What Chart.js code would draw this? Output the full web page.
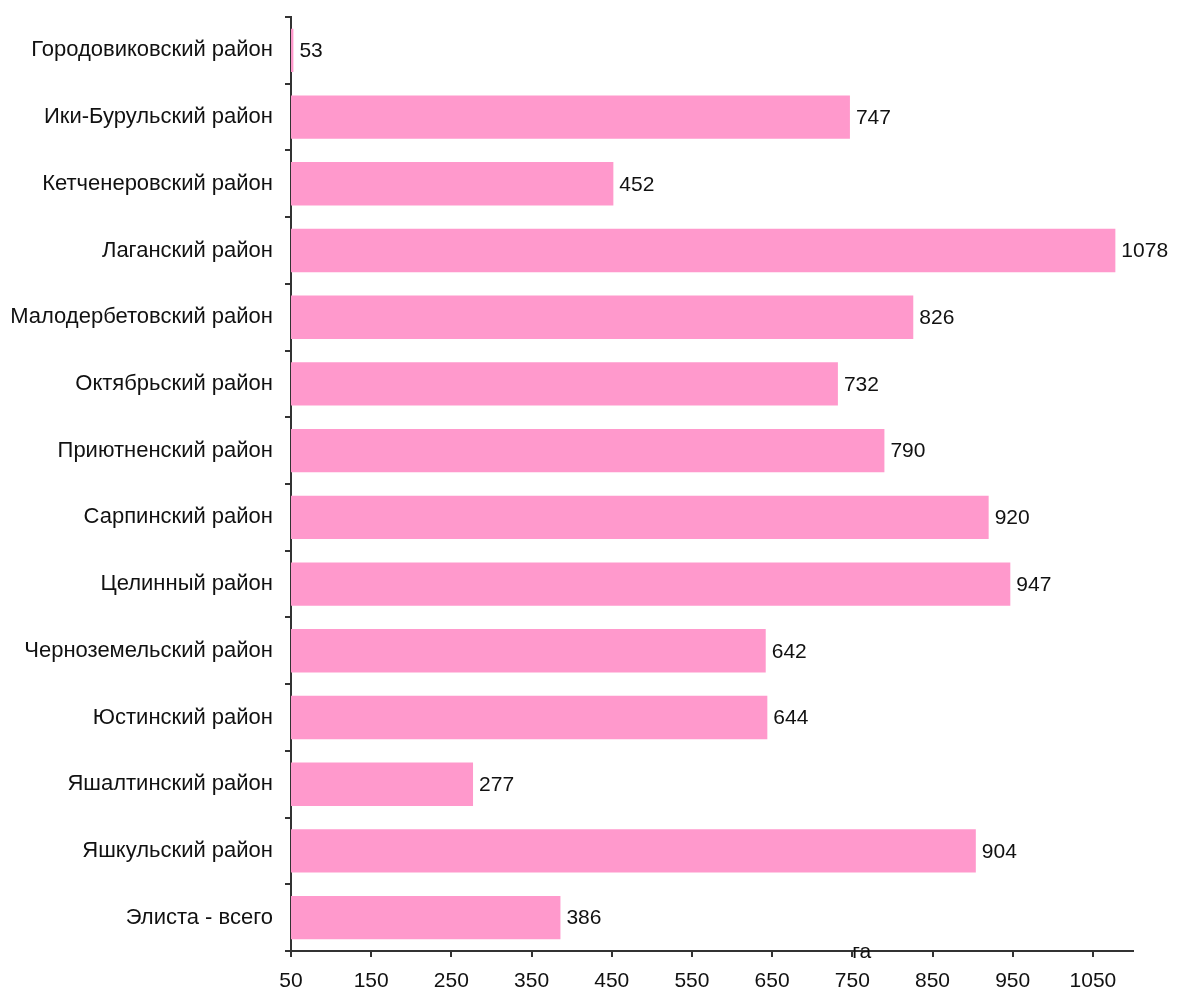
<!DOCTYPE html>
<html>
<head>
<meta charset="utf-8">
<script src="https://cdn.jsdelivr.net/npm/chart.js@4"></script>
<style>
  html, body { margin: 0; padding: 0; background: #fff; }
  #wrap { width: 1179px; height: 995px; }
</style>
</head>
<body>
<div id="wrap"><canvas id="barChart" width="1179" height="995"></canvas></div>
<script>
const DISTRICTS = [
    "Городовиковский район",
    "Ики-Бурульский район",
    "Кетченеровский район",
    "Лаганский район",
    "Малодербетовский район",
    "Октябрьский район",
    "Приютненский район",
    "Сарпинский район",
    "Целинный район",
    "Черноземельский район",
    "Юстинский район",
    "Яшалтинский район",
    "Яшкульский район",
    "Элиста - всего"
];
const AREA = [53, 747, 452, 1078, 826, 732, 790, 920, 947, 642, 644, 277, 904, 386];
const X_TICKS = [50, 150, 250, 350, 450, 550, 650, 750, 850, 950, 1050];
const UNIT = "га";

const FONT = "'Liberation Sans', Arial, sans-serif";
const NUM_SIZE = 21;
const CAT_SIZE = 22;

const valueLabels = {
    id: "valueLabels",
    afterDatasetsDraw(chart){
        const ctx = chart.ctx;
        const meta = chart.getDatasetMeta(0);
        ctx.save();
        ctx.font = NUM_SIZE + "px " + FONT;
        ctx.fillStyle = "#111";
        ctx.textAlign = "left";
        ctx.textBaseline = "middle";
        meta.data.forEach((bar, i) => {
            ctx.fillText(String(AREA[i]), bar.x + 6, bar.y + 1);
        });
        // unit caption sitting across the x axis line
        const xs = chart.scales.x;
        ctx.fillText(UNIT, xs.getPixelForValue(750), xs.top + 1);
        ctx.restore();
    }
};

new Chart(document.getElementById("barChart"), {
    type: "bar",
    data: {
        labels: DISTRICTS,
        datasets: [{
            data: AREA,
            backgroundColor: "#FF99CC",
            borderWidth: 0,
            barPercentage: 0.65,
            categoryPercentage: 1
        }]
    },
    options: {
        indexAxis: "y",
        responsive: false,
        animation: false,
        layout: { padding: { top: 17, right: 46, left: 0, bottom: 0 } },
        plugins: {
            legend: { display: false },
            tooltip: { enabled: false }
        },
        scales: {
            x: {
                type: "linear",
                min: 50,
                max: 1100,
                afterBuildTicks(scale){
                    scale.ticks = X_TICKS.map(v => ({ value: v }));
                },
                afterFit(scale){ scale.height = 44; },
                grid: { drawOnChartArea: false, drawTicks: true, tickLength: 6, color: "#333", lineWidth: 2 },
                border: { display: true, color: "#333", width: 2 },
                ticks: {
                    color: "#111",
                    font: { size: NUM_SIZE, family: FONT },
                    padding: 12,
                    maxRotation: 0,
                    callback: v => String(v)
                }
            },
            y: {
                offset: true,
                afterFit(scale){
                    scale.width = 291;
                    scale.paddingTop = 0;
                    scale.paddingBottom = 0;
                },
                grid: { offset: true, drawOnChartArea: false, drawTicks: true, tickLength: 6, color: "#333", lineWidth: 2 },
                border: { display: true, color: "#333", width: 2 },
                ticks: { color: "#111", font: { size: CAT_SIZE, family: FONT }, padding: 12, autoSkip: false }
            }
        }
    },
    plugins: [valueLabels]
});
</script>
</body>
</html>
